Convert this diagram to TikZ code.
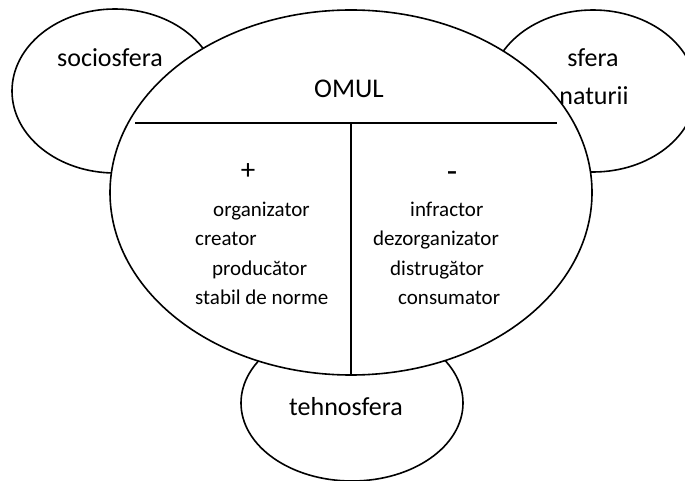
\documentclass[tikz,border=0pt]{standalone}
\usepackage{fontspec}
\setmainfont{Carlito}
\usetikzlibrary{shapes.geometric}
\begin{document}
\begin{tikzpicture}[x=1pt,y=-1pt,
    bula/.style={draw,ellipse,line width=1.6pt,inner sep=0pt,fill=white},
    mare/.style={font=\fontsize{26}{31}\selectfont,inner sep=0pt,anchor=base},
    mic/.style={font=\fontsize{21}{25}\selectfont,inner sep=0pt,anchor=base west}]
    \clip (0,0) rectangle (685,481);
    %% spheres
    \node[bula,minimum width=206pt,minimum height=164pt] (socio) at (115,91) {};
    \node[bula,minimum width=206pt,minimum height=162pt] (natura) at (593,91) {};
    \node[bula,minimum width=222pt,minimum height=156pt] (tehno) at (352,403) {};
    %% man
    \node[bula,minimum width=482pt,minimum height=365pt] (om) at (351,192.5) {};
    \coordinate (st) at (135,123);
    \coordinate (dr) at (557,123);
    \coordinate (mij) at (351,123);
    \draw[line width=1.6pt] (st) -- (dr);
    \draw[line width=1.6pt] (mij) -- (om.south);
    %% labels
    \node[mare] (socioTxt) at (110,67) {sociosfera};
    \node[mare] (sferaTxt) at (593,67) {sfera};
    \node[mare] (naturiiTxt) at (594,105) {naturii};
    \node[mare] (tehnoTxt) at (346,415) {tehnosfera};
    \node[mare,font=\fontsize{27}{32}\selectfont] (omTxt) at (349,98) {OMUL};
    %% plus
    \node[mare,font=\fontsize{29}{34}\selectfont,anchor=center] (plus) at (248,172) {+};
    \node[mic] (organizator) at (213,216) {organizator};
    \node[mic] (creator) at (195,245) {creator};
    \node[mic] (producator) at (212,275) {producător};
    \node[mic] (stabil) at (195,304) {stabil de norme};
    %% minus
    \node[mare,font=\fontsize{34}{40}\selectfont,anchor=center] (minus) at (452,177) {-};
    \node[mic] (infractor) at (410,216) {infractor};
    \node[mic] (dezorg) at (373,245) {dezorganizator};
    \node[mic] (distrug) at (390,275) {distrugător};
    \node[mic] (consum) at (398,304) {consumator};
\end{tikzpicture}
\end{document}
